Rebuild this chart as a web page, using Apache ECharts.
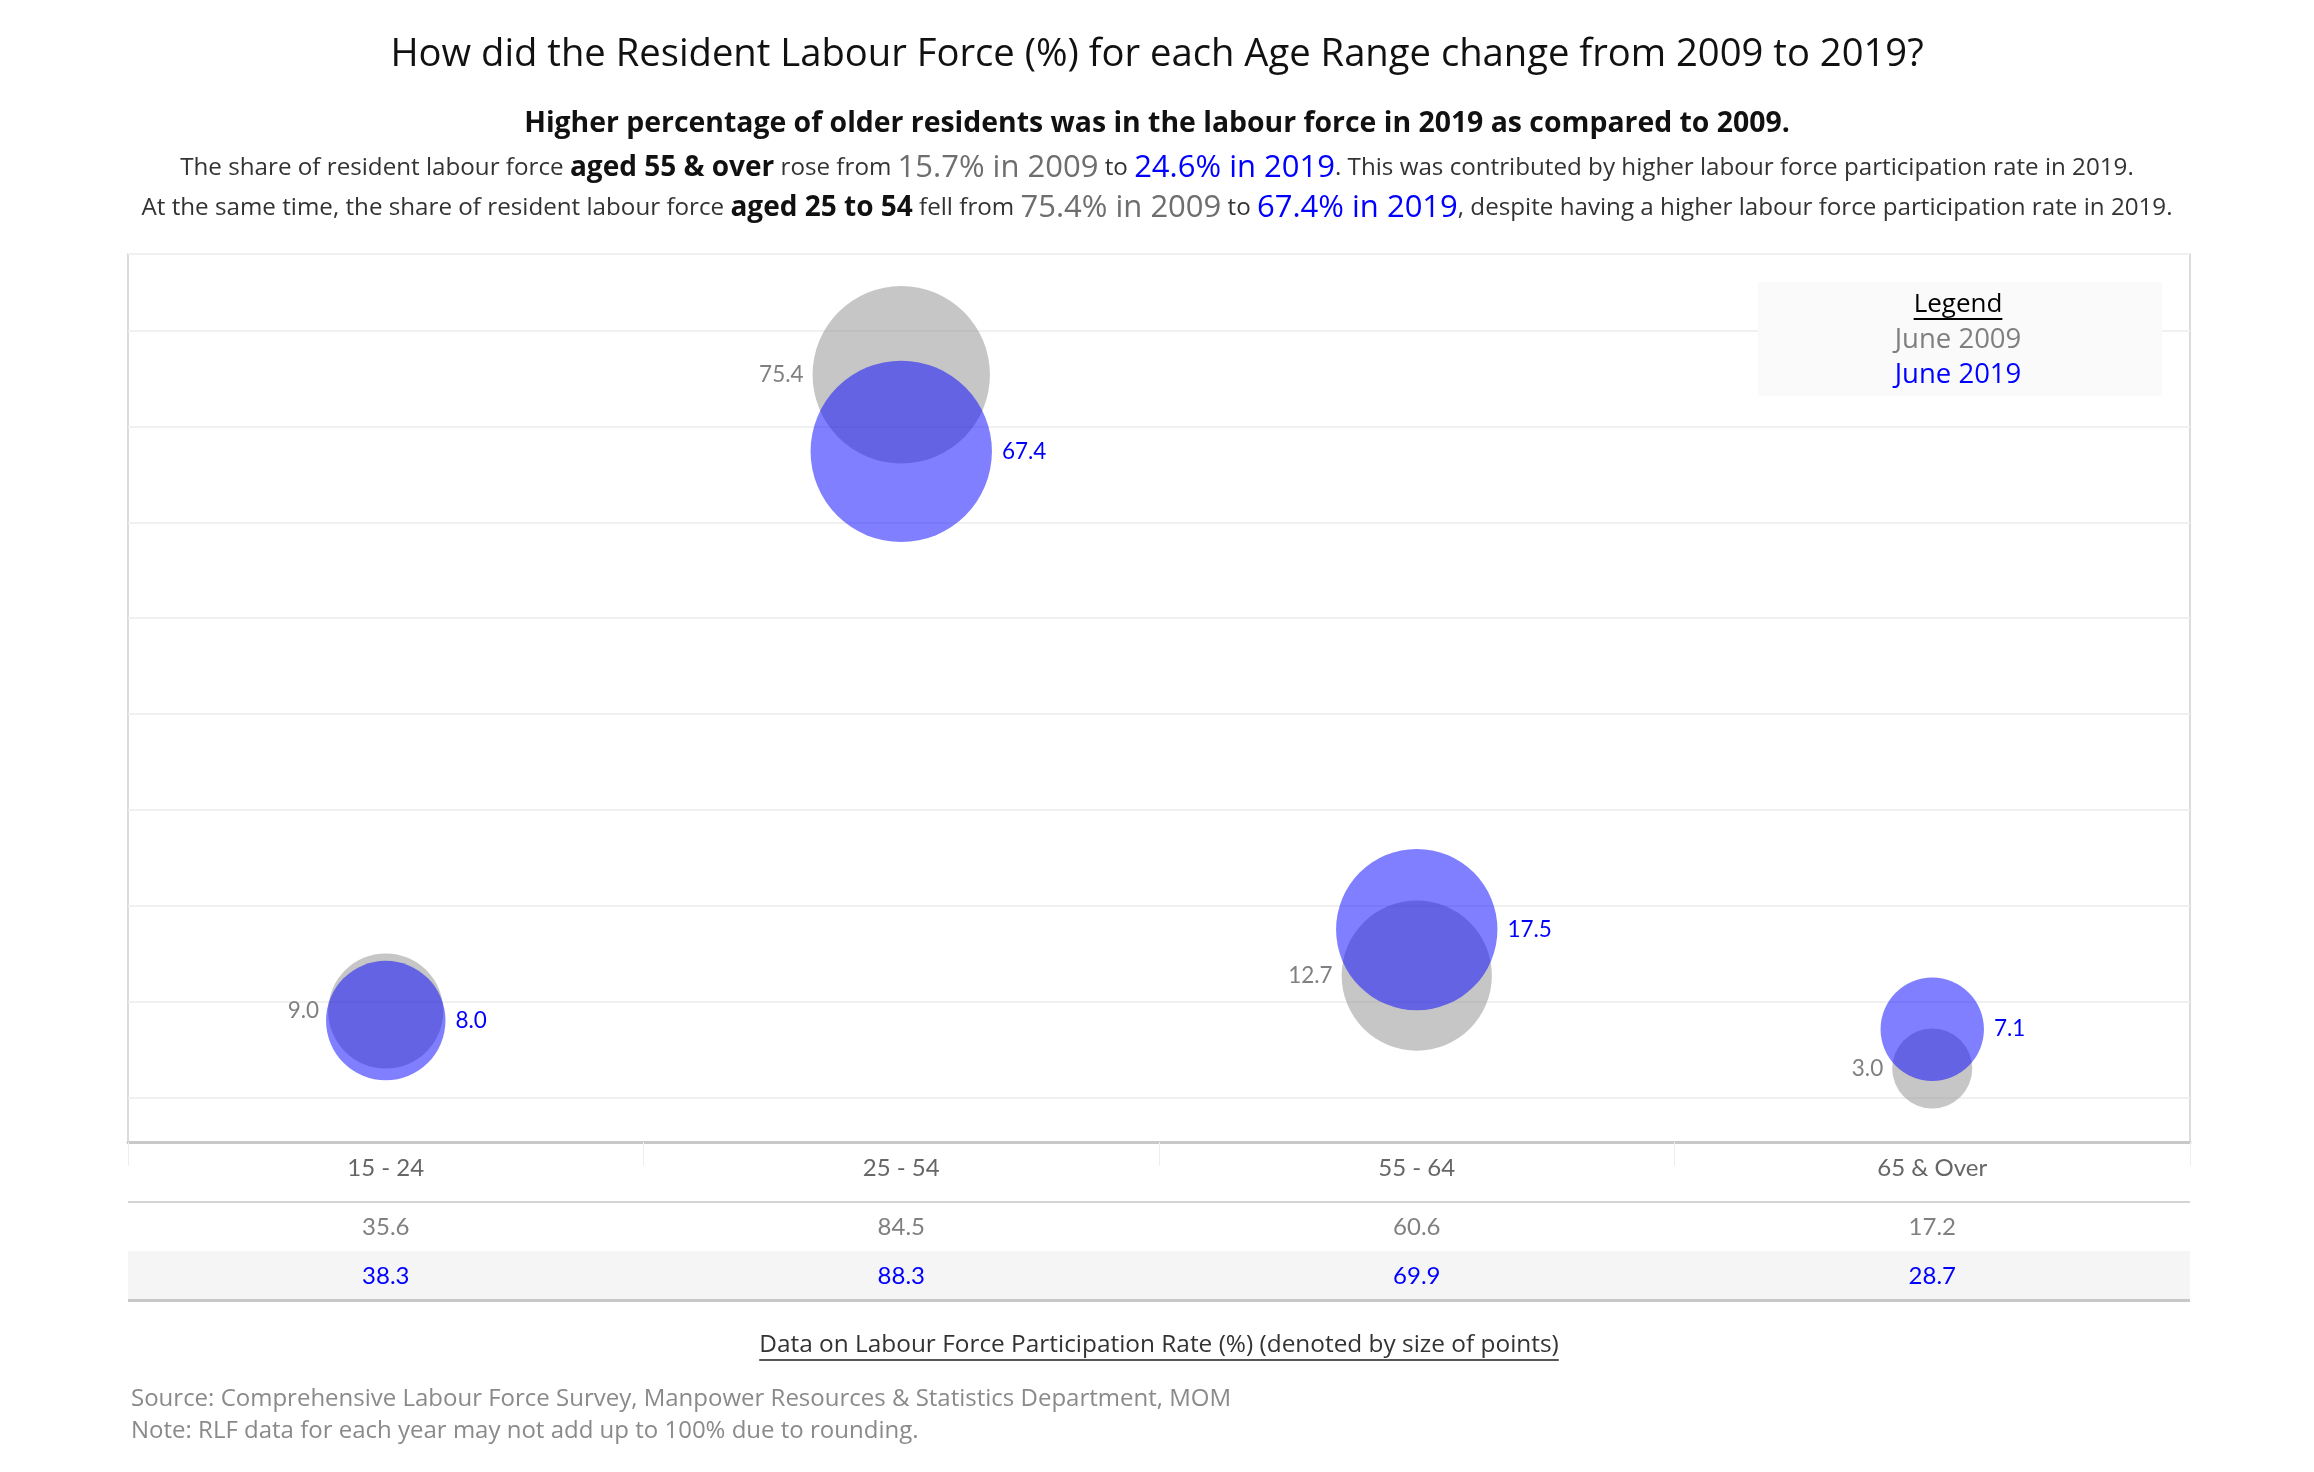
<!DOCTYPE html>
<html>
<head>
<meta charset="utf-8">
<script src="https://cdn.jsdelivr.net/npm/echarts@6/dist/echarts.min.js"></script>
<style>
html,body{margin:0;padding:0;background:#fff;}
#chart{width:2314px;height:1472px;}
</style>
</head>
<body>
<div id="chart"></div>
<script>
// ---- data ----
const ageRanges = ['15 - 24', '25 - 54', '55 - 64', '65 & Over'];
const share2009 = [9.0, 75.4, 12.7, 3.0];   // resident labour force share (%)
const share2019 = [8.0, 67.4, 17.5, 7.1];
const lfpr2009 = [35.6, 84.5, 60.6, 17.2];  // participation rate (%) -> point size
const lfpr2019 = [38.3, 88.3, 69.9, 28.7];
const legendLabels = ['June 2009', 'June 2019'];

const FONT = 'Lato';
const TFONT = 'Open Sans';
const GREY = '#808080';
const BLUE = '#0000ff';

function measure(text, size, weight, fam) {
  const c = document.createElement('canvas').getContext('2d');
  c.font = (weight || 'normal') + ' ' + size + 'px "' + (fam || FONT) + '"';
  return c.measureText(text).width;
}

const gridL = 128, gridT = 254, gridW = 2062, gridH = 888;

const sizeFn = d => 19.3 * Math.sqrt(d[2]);

const line1 = '{n|The share of resident labour force }{b|aged 55 & over}{n| rose from }{g|15.7% in 2009}{n| to }{u|24.6% in 2019}{n|. This was contributed by higher labour force participation rate in 2019.}';
const line2 = '{n|At the same time, the share of resident labour force }{b|aged 25 to 54}{n| fell from }{g|75.4% in 2009}{n| to }{u|67.4% in 2019}{n|, despite having a higher labour force participation rate in 2019.}';
const richStyles = {
  n: {fontFamily: TFONT, fontSize: 24.2, fontWeight: 'normal', color: '#333333', lineHeight: 38},
  b: {fontFamily: TFONT, fontSize: 28, fontWeight: 'bold', color: '#111111', lineHeight: 38},
  g: {fontFamily: TFONT, fontSize: 31, fontWeight: 'normal', color: '#6e6e6e', lineHeight: 38},
  u: {fontFamily: TFONT, fontSize: 31, fontWeight: 'normal', color: BLUE, lineHeight: 38}
};

const noteText = 'Data on Labour Force Participation Rate (%) (denoted by size of points)';
const noteW = measure(noteText, 24.4, 'normal', TFONT);
const legW = measure('Legend', 26, 'normal', TFONT);

const chart = echarts.init(document.getElementById('chart'), null, {renderer: 'canvas'});
chart.setOption({
  backgroundColor: '#ffffff',
  animation: false,
  textStyle: {fontFamily: FONT},
  title: [
    {text: 'How did the Resident Labour Force (%) for each Age Range change from 2009 to 2019?',
     left: 'center', top: 31, padding: 0,
     textStyle: {fontFamily: TFONT, fontSize: 38.2, fontWeight: 'normal', color: '#111111', lineHeight: 48}},
    {text: 'Higher percentage of older residents was in the labour force in 2019 as compared to 2009.',
     left: 'center', top: 106, padding: 0,
     textStyle: {fontFamily: TFONT, fontSize: 28.4, fontWeight: 'bold', color: '#111111', lineHeight: 36}},
    {text: line1, left: 'center', top: 149, padding: 0, textStyle: {fontWeight: 'normal', rich: richStyles}},
    {text: line2, left: 'center', top: 189, padding: 0, textStyle: {fontWeight: 'normal', rich: richStyles}}
  ],
  grid: {left: gridL, top: gridT, width: gridW, height: gridH, show: true,
         borderColor: '#d0d0d0', borderWidth: 1.5, backgroundColor: 'transparent'},
  xAxis: [
    {type: 'category', data: ageRanges, gridIndex: 0, position: 'bottom',
     axisLine: {show: true, onZero: false, lineStyle: {color: '#c8c8c8', width: 3}},
     axisTick: {show: true, length: 24, lineStyle: {color: '#eeeeee', width: 1}},
     axisLabel: {color: '#666666', fontSize: 24, margin: 14, fontFamily: FONT},
     splitLine: {show: false}},
    {type: 'category', data: ageRanges, gridIndex: 0, position: 'bottom', offset: 59,
     axisLine: {show: false, onZero: false}, axisTick: {show: false},
     axisLabel: {color: GREY, fontSize: 24, margin: 14, fontFamily: FONT,
                 formatter: (v, i) => lfpr2009[i].toFixed(1)}},
    {type: 'category', data: ageRanges, gridIndex: 0, position: 'bottom', offset: 108,
     axisLine: {show: false, onZero: false}, axisTick: {show: false},
     axisLabel: {color: BLUE, fontSize: 24, margin: 14, fontFamily: FONT,
                 formatter: (v, i) => lfpr2019[i].toFixed(1)}}
  ],
  yAxis: {type: 'value', min: -4.67, max: 88.0, splitNumber: 9,
          axisLine: {show: false}, axisTick: {show: false}, axisLabel: {show: false},
          splitLine: {show: true, lineStyle: {color: '#f0f0f0', width: 2}}},
  series: [
    {name: legendLabels[0], type: 'scatter', xAxisIndex: 0,
     data: ageRanges.map((c, i) => [c, share2009[i], lfpr2009[i]]),
     symbolSize: sizeFn,
     itemStyle: {color: 'rgba(142,142,142,0.5)', opacity: 1},
     label: {show: true, position: 'left', distance: 9, color: GREY, fontSize: 22.5, fontFamily: FONT,
             formatter: p => p.data[1].toFixed(1)},
     emphasis: {disabled: true}, z: 2},
    {name: legendLabels[1], type: 'scatter', xAxisIndex: 0,
     data: ageRanges.map((c, i) => [c, share2019[i], lfpr2019[i]]),
     symbolSize: sizeFn,
     itemStyle: {color: 'rgba(0,0,255,0.5)', opacity: 1},
     label: {show: true, position: 'right', distance: 10, color: BLUE, fontSize: 22.5, fontFamily: FONT,
             formatter: p => p.data[1].toFixed(1)},
     emphasis: {disabled: true}, z: 3}
  ],
  graphic: [
    {type: 'rect', z: -10, shape: {x: gridL, y: 1251, width: gridW, height: 49}, style: {fill: '#f5f5f5'}},
    {type: 'line', z: -5, shape: {x1: gridL, y1: 1202, x2: gridL + gridW, y2: 1202}, style: {stroke: '#d4d4d4', lineWidth: 2}},
    {type: 'line', z: -5, shape: {x1: gridL, y1: 1300.5, x2: gridL + gridW, y2: 1300.5}, style: {stroke: '#c8c8c8', lineWidth: 3}},
    {type: 'rect', z: 10, shape: {x: 1758, y: 282, width: 404, height: 114}, style: {fill: '#fafafa'}},
    {type: 'text', z: 11, x: 1958, y: 305, style: {text: 'Legend', fontSize: 26, fontFamily: TFONT, fill: '#000000', textAlign: 'center', textVerticalAlign: 'middle', align: 'center', verticalAlign: 'middle'}},
    {type: 'line', z: 11, shape: {x1: 1958 - legW / 2, y1: 319, x2: 1958 + legW / 2, y2: 319}, style: {stroke: '#000000', lineWidth: 2}},
    {type: 'text', z: 11, x: 1958, y: 340, style: {text: legendLabels[0], fontSize: 27.5, fontFamily: TFONT, fill: '#7f7f7f', textAlign: 'center', textVerticalAlign: 'middle', align: 'center', verticalAlign: 'middle'}},
    {type: 'text', z: 11, x: 1958, y: 375, style: {text: legendLabels[1], fontSize: 27.5, fontFamily: TFONT, fill: BLUE, textAlign: 'center', textVerticalAlign: 'middle', align: 'center', verticalAlign: 'middle'}},
    {type: 'text', z: 11, x: 1159, y: 1345, style: {text: noteText, fontSize: 24.4, fontFamily: TFONT, fill: '#333333', textAlign: 'center', textVerticalAlign: 'middle', align: 'center', verticalAlign: 'middle'}},
    {type: 'line', z: 11, shape: {x1: 1159 - noteW / 2, y1: 1360, x2: 1159 + noteW / 2, y2: 1360}, style: {stroke: '#555555', lineWidth: 2}},
    {type: 'text', z: 11, x: 131, y: 1399, style: {text: 'Source: Comprehensive Labour Force Survey, Manpower Resources & Statistics Department, MOM', fontSize: 24, fontFamily: TFONT, fill: '#8a8a8a', textAlign: 'left', textVerticalAlign: 'middle', align: 'left', verticalAlign: 'middle'}},
    {type: 'text', z: 11, x: 131, y: 1431, style: {text: 'Note: RLF data for each year may not add up to 100% due to rounding.', fontSize: 24, fontFamily: TFONT, fill: '#8a8a8a', textAlign: 'left', textVerticalAlign: 'middle', align: 'left', verticalAlign: 'middle'}}
  ]
});
</script>
</body>
</html>
